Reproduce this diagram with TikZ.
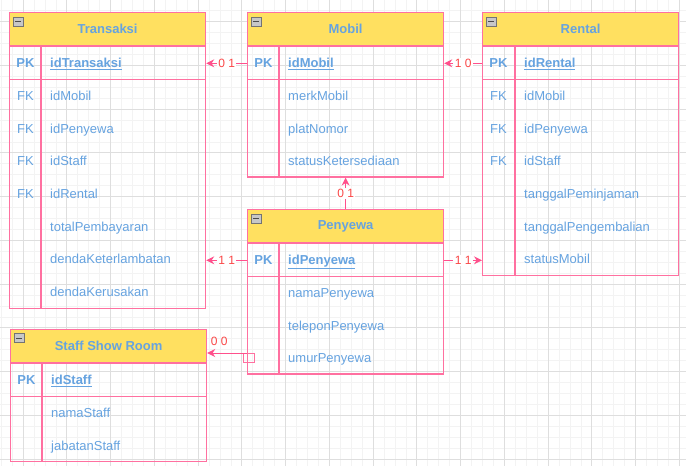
\documentclass[tikz,border=0pt]{standalone}
\usepackage{fontspec}
\setmainfont{Liberation Sans}
\usetikzlibrary{arrows.meta,positioning,calc}
\definecolor{erpink}{RGB}{255,112,160}
\definecolor{erarrow}{RGB}{255,80,140}
\definecolor{erred}{RGB}{250,70,70}
\definecolor{erblue}{RGB}{102,163,224}
\definecolor{eryellow}{RGB}{255,224,96}
\definecolor{gridminor}{RGB}{243,243,243}
\definecolor{gridmajor}{RGB}{222,222,222}

\begin{document}
\begin{tikzpicture}[x=1pt, y=-1pt,
    tbl/.style={draw=erpink, line width=1.2pt, inner sep=0pt, anchor=north west, minimum width=196pt},
    hdr/.style={tbl, fill=eryellow, minimum height=33pt, text=erblue,
        font=\fontsize{13}{15}\selectfont\bfseries},
    pkrow/.style={tbl, minimum height=33pt},
    col/.style={draw=erpink, line width=1.2pt},
    key/.style={text=erblue, font=\fontsize{13}{15}\selectfont, inner sep=0pt, anchor=base},
    pkkey/.style={key, font=\fontsize{13}{15}\selectfont\bfseries},
    fld/.style={key, anchor=base west},
    pkfld/.style={pkkey, anchor=base west},
    icon/.style={draw=black!55, fill=black!22, minimum width=10pt, minimum height=9pt, inner sep=0pt,
        path picture={\draw[black!70, line width=1pt] ([xshift=2pt]path picture bounding box.west)
            -- ([xshift=-2pt]path picture bounding box.east);}},
    rel/.style={draw=erarrow, line width=1pt, -{Stealth[length=8pt,width=8pt]}},
    card/.style={text=erred, font=\fontsize{12}{14}\selectfont, fill=white, inner sep=1.5pt}
]
    \useasboundingbox (0,0) rectangle (686,466);
    % background grid
    \begin{scope}
        \clip (0,0) rectangle (686,466);
        \fill[white] (0,0) rectangle (686,466);
        \foreach \k in {-2,...,61}
            \draw[gridminor, line width=0.6pt] ({23+10.9375*\k},0) -- ({23+10.9375*\k},466);
        \foreach \k in {-2,...,42}
            \draw[gridminor, line width=0.6pt] (0,{21.5+10.9375*\k}) -- (686,{21.5+10.9375*\k});
        \foreach \k in {0,...,15}
            \draw[gridmajor, line width=0.7pt] ({23+43.75*\k},0) -- ({23+43.75*\k},466);
        \foreach \k in {0,...,10}
            \draw[gridmajor, line width=0.7pt] (0,{21.5+43.75*\k}) -- (686,{21.5+43.75*\k});
    \end{scope}

    % Transaksi
    \node[tbl, minimum height=295.6pt] (trans) at (9,12) {};
    \node[hdr] (transhd) at (9,12) {Transaksi};
    \node[pkrow] (transpk) at (transhd.south west) {};
    \draw[col] ([xshift=32pt]transpk.north west) -- ([xshift=32pt]trans.south west);
    \node[icon] (transic) at ([xshift=9pt,yshift=-9.5pt]transhd.north west) {};
    \node[pkkey] (transk) at ([xshift=16.5pt,yshift=-21pt]transpk.north west) {PK};
    \node[pkfld] (transf) at ([xshift=41pt,yshift=-21pt]transpk.north west) {\underline{idTransaksi}};
    \foreach \k/\f [count=\i] in {FK/idMobil, FK/idPenyewa, FK/idStaff, FK/idRental,
        {}/totalPembayaran, {}/dendaKeterlambatan, {}/dendaKerusakan} {
        \node[key] (transk\i) at ([xshift=16.5pt, yshift={-20.3pt-32.6pt*(\i-1)}]transpk.south west) {\k};
        \node[fld] (transf\i) at ([xshift=41pt, yshift={-20.3pt-32.6pt*(\i-1)}]transpk.south west) {\f};
    }

    % Mobil
    \node[tbl, minimum height=164.4pt] (mobil) at (247,12) {};
    \node[hdr] (mobilhd) at (247,12) {Mobil};
    \node[pkrow] (mobilpk) at (mobilhd.south west) {};
    \draw[col] ([xshift=32pt]mobilpk.north west) -- ([xshift=32pt]mobil.south west);
    \node[icon] (mobilic) at ([xshift=9pt,yshift=-9.5pt]mobilhd.north west) {};
    \node[pkkey] (mobilk) at ([xshift=16.5pt,yshift=-21pt]mobilpk.north west) {PK};
    \node[pkfld] (mobilf) at ([xshift=41pt,yshift=-21pt]mobilpk.north west) {\underline{idMobil}};
    \foreach \f [count=\i] in {merkMobil, platNomor, statusKetersediaan}
        \node[fld] (mobilf\i) at ([xshift=41pt, yshift={-20.3pt-32.6pt*(\i-1)}]mobilpk.south west) {\f};

    % Rental
    \node[tbl, minimum height=262.8pt] (rental) at (482,12) {};
    \node[hdr] (rentalhd) at (482,12) {Rental};
    \node[pkrow] (rentalpk) at (rentalhd.south west) {};
    \draw[col] ([xshift=33pt]rentalpk.north west) -- ([xshift=33pt]rental.south west);
    \node[icon] (rentalic) at ([xshift=9pt,yshift=-9.5pt]rentalhd.north west) {};
    \node[pkkey] (rentalk) at ([xshift=16.5pt,yshift=-21pt]rentalpk.north west) {PK};
    \node[pkfld] (rentalf) at ([xshift=42pt,yshift=-21pt]rentalpk.north west) {\underline{idRental}};
    \foreach \k/\f [count=\i] in {FK/idMobil, FK/idPenyewa, FK/idStaff,
        {}/tanggalPeminjaman, {}/tanggalPengembalian, {}/statusMobil} {
        \node[key] (rentalk\i) at ([xshift=16.5pt, yshift={-20.3pt-32.6pt*(\i-1)}]rentalpk.south west) {\k};
        \node[fld] (rentalf\i) at ([xshift=42pt, yshift={-20.3pt-32.6pt*(\i-1)}]rentalpk.south west) {\f};
    }

    % Penyewa
    \node[tbl, minimum height=164.4pt] (penyewa) at (247,209) {};
    \node[hdr] (penyewahd) at (247,209) {Penyewa};
    \node[pkrow] (penyewapk) at (penyewahd.south west) {};
    \draw[col] ([xshift=32pt]penyewapk.north west) -- ([xshift=32pt]penyewa.south west);
    \node[icon] (penyewaic) at ([xshift=9pt,yshift=-9.5pt]penyewahd.north west) {};
    \node[pkkey] (penyewak) at ([xshift=16.5pt,yshift=-21pt]penyewapk.north west) {PK};
    \node[pkfld] (penyewaf) at ([xshift=41pt,yshift=-21pt]penyewapk.north west) {\underline{idPenyewa}};
    \foreach \f [count=\i] in {namaPenyewa, teleponPenyewa, umurPenyewa}
        \node[fld] (penyewaf\i) at ([xshift=41pt, yshift={-20.3pt-32.6pt*(\i-1)}]penyewapk.south west) {\f};

    % Staff Show Room
    \node[tbl, minimum height=131.6pt] (staff) at (10,329) {};
    \node[hdr] (staffhd) at (10,329) {Staff Show Room};
    \node[pkrow] (staffpk) at (staffhd.south west) {};
    \draw[col] ([xshift=32pt]staffpk.north west) -- ([xshift=32pt]staff.south west);
    \node[icon] (staffic) at ([xshift=9pt,yshift=-9pt]staffhd.north west) {};
    \node[pkkey] (staffk) at ([xshift=16.5pt,yshift=-21pt]staffpk.north west) {PK};
    \node[pkfld] (stafff) at ([xshift=41pt,yshift=-21pt]staffpk.north west) {\underline{idStaff}};
    \foreach \f [count=\i] in {namaStaff, jabatanStaff}
        \node[fld] (stafff\i) at ([xshift=41pt, yshift={-20.3pt-32.6pt*(\i-1)}]staffpk.south west) {\f};

    % relations
    \draw[rel] (mobilpk.west) -- node[card] {0 1} (transpk.east);
    \draw[rel] (rentalpk.west) -- node[card] {1 0} (mobilpk.east);
    \draw[rel] (penyewahd.north) -- node[card] {0 1} (mobil.south);
    \draw[rel] (penyewapk.west) -- node[card] {1 1} (penyewapk.west -| trans.east);
    \draw[rel] (penyewapk.east) -- node[card] {1 1} (penyewapk.east -| rental.west);
    \coordinate (staffjt) at ([yshift=-144pt]penyewa.north west);
    \node[draw=erpink, line width=1pt, minimum width=11pt, minimum height=9pt, inner sep=0pt,
        anchor=north west] (staffsq) at ([xshift=-4pt]staffjt) {};
    \draw[rel] (staffjt) -- node[pos=0.7, above, yshift=4pt, text=erred,
        font=\fontsize{12}{14}\selectfont] {0 0} (staffjt -| staffhd.east);
\end{tikzpicture}
\end{document}
